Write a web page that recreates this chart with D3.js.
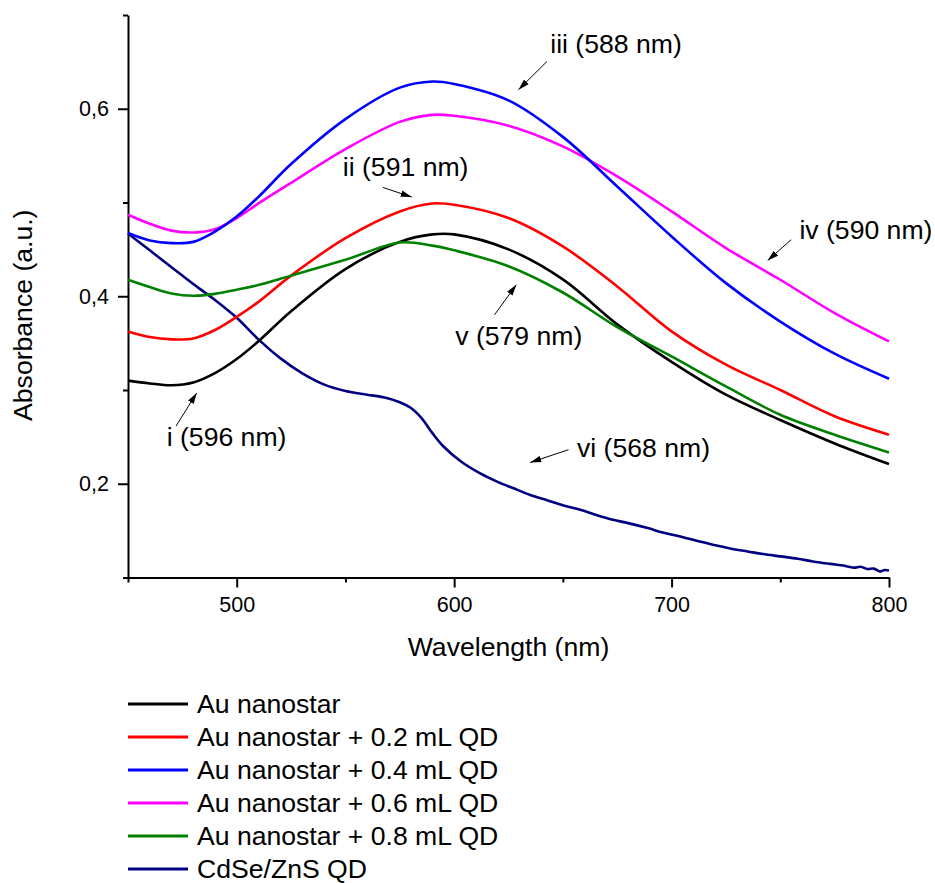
<!DOCTYPE html>
<html>
<head>
<meta charset="utf-8">
<script src="https://cdn.jsdelivr.net/npm/d3@7"></script>
<style>
  html, body { margin: 0; padding: 0; background: #fff; }
  svg text { font-family: "Liberation Sans", Arial, Helvetica, sans-serif; fill: #000; }
</style>
</head>
<body>
<svg id="chart" width="935" height="883"></svg>
<script>
// Wavelength grid (nm) shared by the Au nanostar spectra
const wavelengths = [450, 460, 470, 480, 490, 500, 510, 525, 550, 575, 590, 600, 625, 650, 675, 700, 725, 750, 775, 800];

// Absorbance (a.u.) of each sample on that grid
const auNanostar  = [0.310, 0.307, 0.305, 0.308, 0.318, 0.333, 0.352, 0.384, 0.429, 0.458, 0.466, 0.466, 0.450, 0.418, 0.370, 0.330, 0.295, 0.268, 0.243, 0.221];
const auQd02      = [0.3625, 0.3565, 0.354, 0.355, 0.364, 0.378, 0.394, 0.422, 0.462, 0.4905, 0.499, 0.4976, 0.4834, 0.4531, 0.4105, 0.3625, 0.327, 0.300, 0.272, 0.2523];
const auQd04      = [0.4674, 0.4595, 0.4567, 0.458, 0.469, 0.485, 0.506, 0.541, 0.589, 0.6225, 0.6291, 0.6265, 0.609, 0.570, 0.5171, 0.4638, 0.414, 0.373, 0.3387, 0.312];
const auQd06      = [0.4869, 0.4773, 0.470, 0.468, 0.4715, 0.4834, 0.499, 0.521, 0.557, 0.586, 0.5935, 0.5925, 0.5819, 0.5598, 0.5278, 0.4905, 0.4514, 0.4176, 0.382, 0.3518];
const auQd08      = [0.4176, 0.4098, 0.403, 0.4005, 0.4025, 0.407, 0.412, 0.422, 0.4389, 0.4574, 0.454, 0.449, 0.432, 0.404, 0.367, 0.3358, 0.3038, 0.2736, 0.2523, 0.2334];

// CdSe/ZnS quantum dot spectrum on its own grid
const qdWavelengths = [450, 460, 470, 480, 490, 500, 510, 520, 530, 540, 550, 560, 568, 575, 580, 585, 590, 595, 603, 612, 620, 627, 635, 643, 650, 658, 665, 673, 680, 689, 696, 704, 712, 719, 727, 735, 742, 750, 758, 765, 773, 778, 781, 784, 787, 790, 793, 796, 798, 800];
const qdAbsorbance  = [0.467, 0.449, 0.431, 0.413, 0.396, 0.377, 0.354, 0.334, 0.318, 0.306, 0.299, 0.295, 0.292, 0.287, 0.281, 0.270, 0.254, 0.240, 0.224, 0.211, 0.202, 0.1954, 0.188, 0.1822, 0.177, 0.1723, 0.167, 0.1616, 0.158, 0.1527, 0.148, 0.1438, 0.139, 0.1349, 0.131, 0.1278, 0.125, 0.1225, 0.120, 0.1171, 0.1145, 0.113, 0.1118, 0.1105, 0.1115, 0.109, 0.1095, 0.1065, 0.108, 0.1075];

const seriesNames  = ["Au nanostar", "Au nanostar + 0.2 mL QD", "Au nanostar + 0.4 mL QD", "Au nanostar + 0.6 mL QD", "Au nanostar + 0.8 mL QD", "CdSe/ZnS QD"];
const seriesColors = ["#000000", "#ff0000", "#0000ff", "#ff00ff", "#008000", "#000080"];

// Tick values
const xMajorTicks = [500, 600, 700, 800];
const xMinorTicks = [450, 550, 650, 750];
const yMajorTicks = [0.2, 0.4, 0.6];
const yMinorTicks = [0.1, 0.3, 0.5, 0.7];

// Peak labels: text anchor and arrow tail/head in data units (nm, a.u.)
const peakLabels = [
  { text: "i (596 nm)",   at: [467.8, 0.2398], from: [472.1, 0.2616], to: [481.6, 0.2968] },
  { text: "ii (591 nm)",  at: [548.8, 0.5278], from: [567.2, 0.5161], to: [580.5, 0.5058] },
  { text: "iii (588 nm)", at: [644.2, 0.6594], from: [642.7, 0.6505], to: [629.6, 0.6203] },
  { text: "iv (590 nm)",  at: [758.8, 0.4610], from: [755.0, 0.4603], to: [744.2, 0.4382] },
  { text: "v (579 nm)",   at: [600.5, 0.3483], from: [618.6, 0.3803], to: [628.6, 0.4123] },
  { text: "vi (568 nm)",  at: [656.5, 0.2285], from: [652.6, 0.2363], to: [635.0, 0.2227] }
];

const svg = d3.select("#chart");

const plot = { left: 128, right: 889, top: 15, bottom: 577.5 };
const bigFont = 26.6;

const x = d3.scaleLinear().domain([450, 800]).range([plot.left, plot.right]);
const y = d3.scaleLinear().domain([0.1, 0.7]).range([plot.bottom, plot.top]);

const formatComma = v => d3.format(".1f")(v).replace(".", ",");

// Axes
const xAxisG = svg.append("g").attr("transform", `translate(0,${plot.bottom})`);
xAxisG.call(d3.axisBottom(x).tickValues(xMajorTicks).tickSize(10).tickPadding(9).tickSizeOuter(0).tickFormat(d3.format("d")));
xAxisG.append("g").call(d3.axisBottom(x).tickValues(xMinorTicks).tickSize(5).tickSizeOuter(0).tickFormat(""))
  .select(".domain").remove();

const yAxisG = svg.append("g").attr("transform", `translate(${plot.left},0)`);
yAxisG.call(d3.axisLeft(y).tickValues(yMajorTicks).tickSize(10).tickPadding(9).tickSizeOuter(0).tickFormat(formatComma));
yAxisG.append("g").call(d3.axisLeft(y).tickValues(yMinorTicks).tickSize(5).tickSizeOuter(0).tickFormat(""))
  .select(".domain").remove();

svg.selectAll(".domain").attr("stroke", "#000").attr("stroke-width", 2);
svg.selectAll(".tick line").attr("stroke", "#000").attr("stroke-width", 2);
svg.selectAll(".tick text").attr("font-size", 21.5).attr("font-family", "Liberation Sans, Arial, sans-serif").attr("fill", "#000");

// Axis titles
svg.append("text")
  .attr("x", (plot.left + plot.right) / 2)
  .attr("y", 656)
  .attr("text-anchor", "middle")
  .attr("font-size", bigFont)
  .text("Wavelength (nm)");

svg.append("text")
  .attr("transform", `translate(32,${(plot.top + plot.bottom) / 2 + 19}) rotate(-90)`)
  .attr("text-anchor", "middle")
  .attr("font-size", bigFont)
  .text("Absorbance (a.u.)");

// Spectra
const line = d3.line()
  .x(d => x(d[0]))
  .y(d => y(d[1]))
  .curve(d3.curveCatmullRom.alpha(0.5));

const auSeries = [auNanostar, auQd02, auQd04, auQd06, auQd08];
const drawOrder = [5, 0, 1, 4, 3, 2];
const seriesPoints = i => i < 5
  ? wavelengths.map((w, k) => [w, auSeries[i][k]])
  : qdWavelengths.map((w, k) => [w, qdAbsorbance[k]]);

const curves = svg.append("g");
drawOrder.forEach(i => {
  curves.append("path")
    .datum(seriesPoints(i))
    .attr("d", line)
    .attr("fill", "none")
    .attr("stroke", seriesColors[i])
    .attr("stroke-width", 2.6)
    .attr("stroke-linejoin", "round");
});

// Arrowhead marker
svg.append("defs").append("marker")
  .attr("id", "arrowhead")
  .attr("viewBox", "0 0 10 6")
  .attr("refX", 10).attr("refY", 3)
  .attr("markerWidth", 11).attr("markerHeight", 7)
  .attr("markerUnits", "userSpaceOnUse")
  .attr("orient", "auto")
  .append("path")
  .attr("d", "M0,0 L10,3 L0,6 Z")
  .attr("fill", "#000");

const notes = svg.append("g");
peakLabels.forEach(p => {
  notes.append("line")
    .attr("x1", x(p.from[0])).attr("y1", y(p.from[1]))
    .attr("x2", x(p.to[0])).attr("y2", y(p.to[1]))
    .attr("stroke", "#000").attr("stroke-width", 1)
    .attr("marker-end", "url(#arrowhead)");
  notes.append("text")
    .attr("x", x(p.at[0])).attr("y", y(p.at[1]))
    .attr("font-size", bigFont)
    .text(p.text);
});

// Legend
const legend = svg.append("g").attr("transform", "translate(128,704)");
seriesNames.forEach((name, i) => {
  const row = legend.append("g").attr("transform", `translate(0,${i * 33})`);
  row.append("line").attr("x1", 0).attr("x2", 60).attr("y1", 0).attr("y2", 0)
    .attr("stroke", seriesColors[i]).attr("stroke-width", 3);
  row.append("text").attr("x", 69).attr("y", 9.3).attr("font-size", bigFont).text(name);
});
</script>
</body>
</html>
